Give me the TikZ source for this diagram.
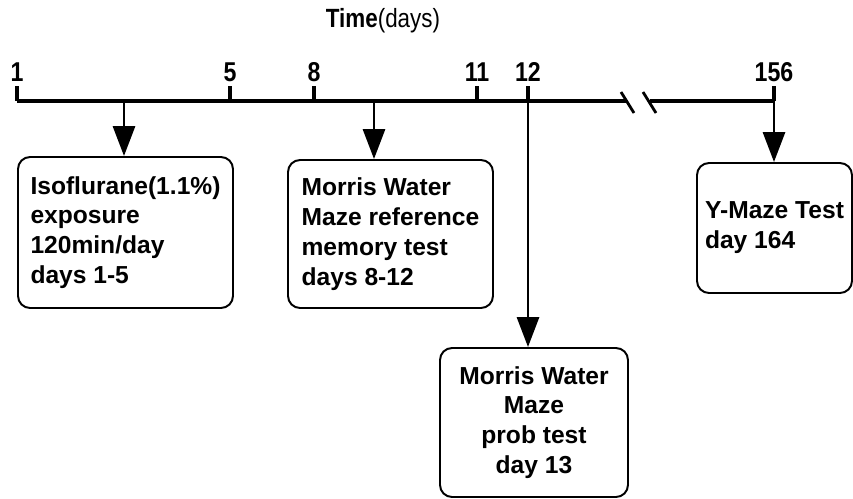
\documentclass[tikz,border=0pt]{standalone}
\usepackage{fontspec}
\setmainfont{Liberation Sans}
\newfontfamily\narrowfont[FakeStretch=0.85]{Liberation Sans}
\usetikzlibrary{arrows.meta}

\tikzset{
  axisline/.style={line width=2.2pt},
  breakmark/.style={line width=1.6pt},
  ticklabel/.style={font=\narrowfont\bfseries\fontsize{15.5}{17}\selectfont, inner sep=0pt},
  evtarrow/.style={line width=1.7pt, -{Triangle[length=0.6cm, width=0.44cm]}},
  evtbox/.style={draw, line width=1.1pt, rounded corners=0.24cm, inner sep=0pt,
    font=\bfseries\fontsize{14}{17}\selectfont}
}

\begin{document}
\begin{tikzpicture}[x=0.02cm, y=-0.02cm]
\useasboundingbox (0,0) rectangle (853,498);

\node[font=\narrowfont\fontsize{15}{17}\selectfont, inner sep=0pt] (title) at (383,21) {\textbf{Time}(days)};

% time axis with break
\draw[axisline] (17,101) -- (627,101);
\draw[axisline] (650,101) -- (773,101);
\draw[breakmark] (621,92) -- (634,113);
\draw[breakmark] (643,92) -- (656,113);

\foreach \pos/\label in {17/1,230/5,314/8,477/11,528/12,774/156} {
\draw[axisline] (\pos,86) -- (\pos,101);
\node[ticklabel] (d\label) at (\pos,72) {\label};
}

% event boxes
\node[evtbox, align=left, minimum width=4.3cm, minimum height=3.02cm] (iso) at (125.5,232.5)
  {Isoflurane(1.1\%)\\exposure\\120min/day\\days 1-5};
\node[evtbox, align=left, minimum width=4.1cm, minimum height=2.96cm] (mwmref) at (390.5,234)
  {Morris Water\\Maze reference\\memory test\\days 8-12};
\node[evtbox, align=center, minimum width=3.76cm, minimum height=2.98cm] (mwmprob) at (534,422.5)
  {Morris Water\\Maze\\prob test\\day 13};
\node[evtbox, align=left, minimum width=3.1cm, minimum height=2.6cm] (ymaze) at (774.5,228)
  {Y-Maze Test\\day 164};

% arrows from the axis
\coordinate (a1) at (124,101);
\coordinate (a2) at (374,101);
\coordinate (a3) at (528,101);
\coordinate (a4) at (774,101);

\draw[evtarrow] (a1) -- (a1 |- iso.north);
\draw[evtarrow] (a2) -- (a2 |- mwmref.north);
\draw[evtarrow] (a3) -- (a3 |- mwmprob.north);
\draw[evtarrow] (a4) -- (a4 |- ymaze.north);

\end{tikzpicture}
\end{document}
